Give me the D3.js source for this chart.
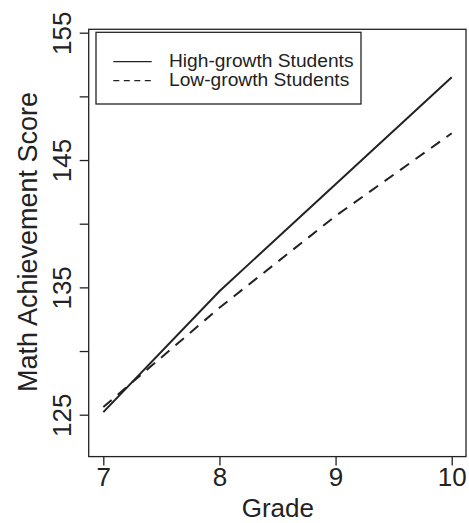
<!DOCTYPE html>
<html>
<head>
<meta charset="utf-8">
<script src="https://cdn.jsdelivr.net/npm/d3@7"></script>
<style>
  body { margin: 0; background: #fff; }
  text { font-family: "Liberation Sans", Arial, sans-serif; fill: #222; }
</style>
</head>
<body>
<script>
// data
var grades = [7, 8, 9, 10];
var highGrowth = [125.2, 134.7, 143.1, 151.5];
var lowGrowth = [125.6, 133.4, 140.6, 147.1];
var yTicks = [125, 130, 135, 140, 145, 150, 155];
var yLabels = [125, 135, 145, 155];
var seriesNames = ["High-growth Students", "Low-growth Students"];

var width = 469, height = 523;
var box = { left: 88.7, right: 466, top: 29.3, bottom: 456.6 };
var ink = "#222";
var font = "Liberation Sans, Arial, sans-serif";

var svg = d3.select("body").append("svg")
    .attr("width", width)
    .attr("height", height);

var x = d3.scaleLinear().domain([7, 10]).range([103.3, 451.7]);
var y = d3.scaleLinear().domain([125, 155]).range([414.7, 32.7]);

// plot frame
svg.append("rect")
    .attr("x", box.left).attr("y", box.top)
    .attr("width", box.right - box.left)
    .attr("height", box.bottom - box.top)
    .attr("fill", "none")
    .attr("stroke", ink)
    .attr("stroke-width", 1.3);

// x axis
var xAxis = d3.axisBottom(x)
    .tickValues(grades)
    .tickSize(9)
    .tickPadding(2)
    .tickFormat(d3.format("d"));

var gx = svg.append("g")
    .attr("transform", `translate(0,${box.bottom})`)
    .call(xAxis);
gx.select(".domain").remove();
gx.selectAll("line").attr("stroke", ink).attr("stroke-width", 1.3);
gx.selectAll("text")
    .attr("font-size", 26)
    .attr("font-family", font)
    .attr("fill", ink);

// y axis, labels rotated like base R
var yAxis = d3.axisLeft(y)
    .tickValues(yTicks)
    .tickSize(9)
    .tickFormat(d => yLabels.includes(d) ? d : "");

var gy = svg.append("g")
    .attr("transform", `translate(${box.left},0)`)
    .call(yAxis);
gy.select(".domain").remove();
gy.selectAll("line").attr("stroke", ink).attr("stroke-width", 1.3);
gy.selectAll("text")
    .attr("x", null).attr("dy", null)
    .attr("font-size", 26)
    .attr("font-family", font)
    .attr("fill", ink)
    .attr("text-anchor", "middle")
    .attr("transform", "translate(-18,0) rotate(-90)");

// axis titles
svg.append("text")
    .attr("x", (box.left + box.right) / 2 + 0.5)
    .attr("y", 517)
    .attr("text-anchor", "middle")
    .attr("font-size", 26)
    .text("Grade");

svg.append("text")
    .attr("transform", `translate(37,${(box.top + box.bottom) / 2 - 1}) rotate(-90)`)
    .attr("text-anchor", "middle")
    .attr("font-size", 27)
    .text("Math Achievement Score");

// lines
var line = d3.line()
    .x((d, i) => x(grades[i]))
    .y(d => y(d));

svg.append("path")
    .datum(highGrowth)
    .attr("d", line)
    .attr("fill", "none")
    .attr("stroke", ink)
    .attr("stroke-width", 2);

svg.append("path")
    .datum(lowGrowth)
    .attr("d", line)
    .attr("fill", "none")
    .attr("stroke", ink)
    .attr("stroke-width", 2)
    .attr("stroke-dasharray", "11,8");

// legend
var legend = svg.append("g");
legend.append("rect")
    .attr("x", 96).attr("y", 32.3)
    .attr("width", 265).attr("height", 71.7)
    .attr("fill", "#fff")
    .attr("stroke", ink)
    .attr("stroke-width", 1.3);

var dashes = [null, "6,4.5"];
seriesNames.forEach(function(name, i) {
  var ly = 61.7 + i * 19;
  legend.append("line")
      .attr("x1", 113.3).attr("x2", 151.7)
      .attr("y1", ly).attr("y2", ly)
      .attr("stroke", ink)
      .attr("stroke-width", 1.3)
      .attr("stroke-dasharray", dashes[i]);
  legend.append("text")
      .attr("x", 169)
      .attr("y", ly + 5)
      .attr("font-size", 19.2)
      .text(name);
});
</script>
</body>
</html>
